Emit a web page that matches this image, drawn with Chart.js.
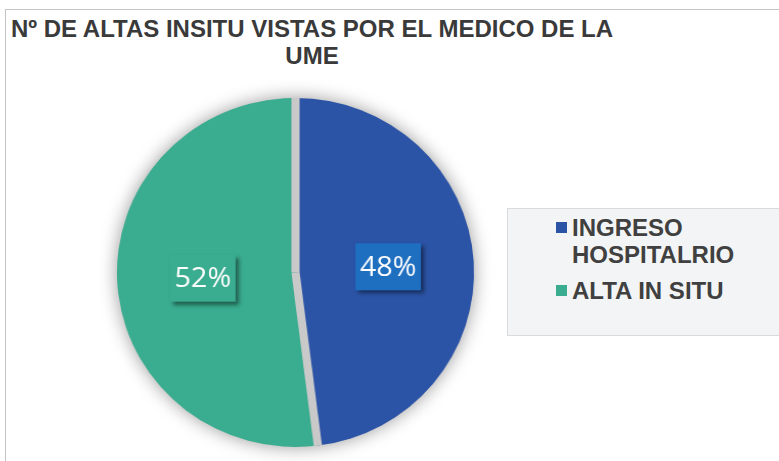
<!DOCTYPE html>
<html>
<head>
<meta charset="utf-8">
<script src="https://cdn.jsdelivr.net/npm/chart.js@4.4.1/dist/chart.umd.min.js"></script>
<style>
    body { margin: 0; width: 779px; height: 461px; overflow: hidden; background: #fff; position: relative; font-family: "Liberation Sans", Arial, sans-serif; }
    #frame { position: absolute; left: 5px; top: 9px; width: 800px; height: 500px; border: 1px solid #c4c4c4; }
    #title { position: absolute; left: 0; top: 15px; width: 624px; text-align: center; font-weight: bold; font-size: 24px; line-height: 27px; color: #3a3a3a; }
    /* el original esta un poco estirado en horizontal */
    #chart { position: absolute; left: 0; top: 0; transform: scaleX(1.023); transform-origin: 295.5px 272px; }
    #legend { position: absolute; left: 507px; top: 208px; width: 290px; height: 128px; background: #f3f4f5; border: 1px solid #dadada; padding-top: 5px; box-sizing: border-box; }
    .item { position: relative; padding-left: 64px; width: 180px; margin-bottom: 9px; font-weight: bold; font-size: 24px; line-height: 27px; color: #404040; }
    .item span { position: absolute; left: 48px; top: 8px; width: 11px; height: 11px; }
</style>
</head>
<body>
<div id="frame"></div>
<div id="title"></div>
<canvas id="chart" width="779" height="461"></canvas>
<div id="legend"></div>
<script>
    // datos del grafico
    const titleLines = ['Nº DE ALTAS INSITU VISTAS POR EL MEDICO DE LA', 'UME'];
    const labels = ['INGRESO HOSPITALRIO', 'ALTA IN SITU'];
    const values = [48, 52];
    const colors = ['#2b53a6', '#3aac8f'];
    const boxColors = ['#1f6fc1', '#3aac8f'];

    document.getElementById('title').innerHTML = titleLines.join('<br>');

    // leyenda
    const legend = document.getElementById('legend');
    labels.forEach((lab, i) => {
        const div = document.createElement('div');
        div.className = 'item';
        div.innerHTML = '<span style="background:' + colors[i] + '"></span>' + lab;
        legend.appendChild(div);
    });

    const total = values.reduce((a, b) => a + b, 0);

    // sombra, separadores y etiquetas del pastel
    const pieDecor = {
        id: 'pieDecor',
        beforeDatasetsDraw(chart) {
            const arc = chart.getDatasetMeta(0).data[0];
            const ctx = chart.ctx;
            ctx.save();
            ctx.shadowColor = 'rgba(0,0,0,0.4)';
            ctx.shadowBlur = 18;
            ctx.fillStyle = '#c9c9c9';
            ctx.beginPath();
            ctx.arc(arc.x, arc.y, arc.outerRadius, 0, Math.PI * 2);
            ctx.fill();
            ctx.restore();
        },
        afterDatasetsDraw(chart) {
            const ctx = chart.ctx;
            const arcs = chart.getDatasetMeta(0).data;
            ctx.save();
            ctx.strokeStyle = '#c9c9c9';
            ctx.lineWidth = 8;
            arcs.forEach(a => {
                ctx.beginPath();
                ctx.moveTo(a.x, a.y);
                ctx.lineTo(a.x + Math.cos(a.startAngle) * a.outerRadius, a.y + Math.sin(a.startAngle) * a.outerRadius);
                ctx.stroke();
            });
            arcs.forEach((a, i) => {
                const mid = (a.startAngle + a.endAngle) / 2;
                const px = a.x + Math.cos(mid) * a.outerRadius * 0.52;
                const py = a.y + Math.sin(mid) * a.outerRadius * 0.52;
                const w = 64, h = 47;
                ctx.save();
                ctx.shadowColor = 'rgba(0,0,0,0.45)';
                ctx.shadowBlur = 4;
                ctx.shadowOffsetX = 3;
                ctx.shadowOffsetY = 3;
                ctx.fillStyle = boxColors[i];
                ctx.fillRect(px - w / 2, py - h / 2, w, h);
                ctx.restore();
                ctx.fillStyle = '#ffffff';
                ctx.font = '28px "Open Sans"';
                ctx.textAlign = 'center';
                ctx.textBaseline = 'middle';
                ctx.fillText(Math.round(values[i] / total * 100) + '%', px, py + 1);
            });
            ctx.restore();
        }
    };

    new Chart(document.getElementById('chart'), {
        type: 'pie',
        data: {
            labels: labels,
            datasets: [{
                data: values,
                backgroundColor: colors,
                borderWidth: 0
            }]
        },
        options: {
            responsive: false,
            animation: false,
            layout: { padding: { left: 121, right: 309, top: 98, bottom: 14 } },
            plugins: {
                legend: { display: false },
                tooltip: { enabled: false }
            }
        },
        plugins: [pieDecor]
    });
</script>
</body>
</html>
